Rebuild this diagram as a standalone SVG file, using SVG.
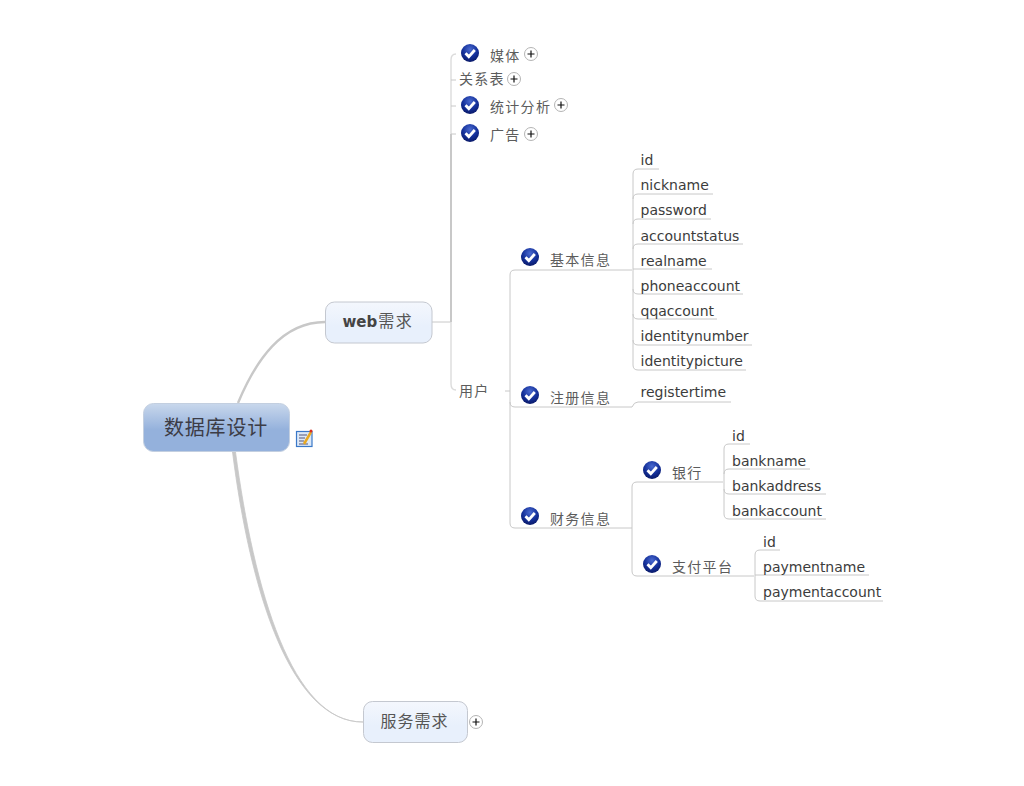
<svg xmlns="http://www.w3.org/2000/svg" width="1024" height="786" viewBox="0 0 1024 786">
<style>
.t{font-family:"DejaVu Sans","Liberation Sans",sans-serif;font-size:14px;fill:#3c3c3c}
.c{font-family:"Noto Sans CJK SC","DejaVu Sans",sans-serif;font-size:14px;fill:#5c5c5c;letter-spacing:1.300px}
.l{fill:none;stroke:#c8c8c8;stroke-width:1}
.p{fill:none;stroke:#111;stroke-width:1.200}
.pc{fill:#fff;stroke:#b4b4b4;stroke-width:1}
</style>
<defs>
<radialGradient id="g" cx="0.5" cy="0.3" r="0.75"><stop offset="0" stop-color="#4a6ad0"/><stop offset="0.55" stop-color="#14309a"/><stop offset="1" stop-color="#081660"/></radialGradient>
<linearGradient id="r" x1="0" y1="0" x2="0" y2="1"><stop offset="0" stop-color="#c9d8ec"/><stop offset="0.55" stop-color="#94b1dc"/><stop offset="1" stop-color="#94b1dc"/></linearGradient>
<linearGradient id="s" x1="0" y1="0" x2="0" y2="1"><stop offset="0" stop-color="#f4f7fd"/><stop offset="0.6" stop-color="#e8f0fc"/><stop offset="1" stop-color="#e8f0fc"/></linearGradient>
<g id="ck"><circle r="9" fill="url(#g)"/><path d="M-4.500 0.200L-1.200 3.600L4.800 -3" fill="none" stroke="#fff" stroke-width="2.800"/></g>
<g id="pl"><circle r="6.500" class="pc"/><path d="M-3.500 0H3.500M0 -3.500V3.500" class="p"/></g>
</defs>
<g id="connectors">
<path d="M238 403C256 360 282 322 325 322" fill="none" stroke="#c8c8c8" stroke-width="2.400"/>
<path d="M232.500 452C250 590 290 722 363 722C292 723 254 590 235.500 452Z" fill="#c8c8c8" stroke="#c8c8c8" stroke-width="0.800"/>
<path class="l" d="M432 322H451"/>
<path d="M451 134V322" fill="none" stroke="#c8c8c8" stroke-width="2"/>
<path d="M456 54Q451 54 451 60V134M451 322V384Q451 390 456 390" fill="none" stroke="#dcdcdc" stroke-width="1.400"/>
<path class="l" d="M451 80H456M451 106H456M451 134H456M505 391H510"/>
<path class="l" d="M632 270H515Q510 270 510 275V523Q510 528 515 528H632M510 402Q510 407 515 407H632Q634 402 638 402H731"/>
<path class="l" d="M659 169H638Q633 169 633 174V365Q633 370 638 370H746M713 194H638Q633 194 633 199M711 219H638Q633 219 633 224M743 244H638Q633 244 633 249M712 269H633M743 294H638Q633 294 633 289M717 319H638Q633 319 633 314M752 345H638Q633 345 633 340"/>
<path class="l" d="M723 482H637Q632 482 632 487V571Q632 576 637 576H754"/>
<path class="l" d="M750 444H729Q724 444 724 449V514Q724 519 729 519H826M810 469H729Q724 469 724 474M826 494H729Q724 494 724 489"/>
<path class="l" d="M780 550H760Q755 550 755 555V596Q755 601 760 601H883M869 575H755"/>
</g>
<g id="root"><rect x="143.500" y="403.500" width="146" height="48" rx="10" fill="url(#r)" stroke="#c3cfe0"/><text x="216" y="435" text-anchor="middle" font-family="'Noto Sans CJK SC',sans-serif" font-size="20" letter-spacing="0.800" fill="#3c3c46">数据库设计</text>
<g id="note"><rect x="296.500" y="431.500" width="15.500" height="15" fill="#dce8f8" stroke="#3a78c8" stroke-width="1.200"/><path d="M299 435H307M299 438H305M299 441H304M299 444H308" stroke="#557" stroke-width="1"/><path d="M304 444L311 432" stroke="#e8a820" stroke-width="2.500"/><circle cx="311" cy="431" r="1.500" fill="#d83020"/></g></g>
<g id="web"><rect x="325.500" y="302" width="106.500" height="41" rx="9" fill="url(#s)" stroke="#c4c8d0"/><text x="342.500" y="327" font-family="'DejaVu Sans',sans-serif" font-size="15" font-weight="bold" fill="#444">web<tspan font-family="'Noto Sans CJK SC',sans-serif" font-weight="normal" font-size="16" fill="#555" letter-spacing="1.500" dx="1">需求</tspan></text></g>
<g id="service"><rect x="363.500" y="701.500" width="104" height="41" rx="9" fill="url(#s)" stroke="#c4c8d0"/><text x="380.500" y="727" font-family="'Noto Sans CJK SC',sans-serif" font-size="16" letter-spacing="1" fill="#555">服务需求</text><use href="#pl" x="476" y="722"/></g>
<g id="media"><use href="#ck" x="470" y="53"/><text class="c" x="490" y="61">媒体</text><use href="#pl" x="531" y="54"/></g>
<g id="relation"><text class="c" x="459" y="84">关系表</text><use href="#pl" x="514" y="79"/></g>
<g id="stats"><use href="#ck" x="470" y="105"/><text class="c" x="490" y="112">统计分析</text><use href="#pl" x="561" y="105"/></g>
<g id="ads"><use href="#ck" x="470" y="133"/><text class="c" x="490" y="140">广告</text><use href="#pl" x="531" y="134"/></g>
<g id="user"><text class="c" x="459" y="396">用户</text></g>
<g id="basic"><use href="#ck" x="530" y="257"/><text class="c" x="550" y="265">基本信息</text></g>
<g id="register"><use href="#ck" x="530" y="395"/><text class="c" x="550" y="403">注册信息</text></g>
<g id="finance"><use href="#ck" x="530" y="516"/><text class="c" x="550" y="524">财务信息</text></g>
<g id="bank"><use href="#ck" x="652" y="470"/><text class="c" x="672" y="478">银行</text></g>
<g id="pay"><use href="#ck" x="652" y="564"/><text class="c" x="672" y="572">支付平台</text></g>
<g id="fields">
<text class="t" x="640.500" y="165">id</text>
<text class="t" x="640.500" y="190">nickname</text>
<text class="t" x="640.500" y="215">password</text>
<text class="t" x="640.500" y="241">accountstatus</text>
<text class="t" x="640.500" y="266">realname</text>
<text class="t" x="640.500" y="291">phoneaccount</text>
<text class="t" x="640.500" y="316">qqaccount</text>
<text class="t" x="640.500" y="341">identitynumber</text>
<text class="t" x="640.500" y="366">identitypicture</text>
<text class="t" x="640.500" y="397">registertime</text>
<text class="t" x="732" y="441">id</text>
<text class="t" x="732" y="466">bankname</text>
<text class="t" x="732" y="491">bankaddress</text>
<text class="t" x="732" y="516">bankaccount</text>
<text class="t" x="763" y="547">id</text>
<text class="t" x="763" y="572">paymentname</text>
<text class="t" x="763" y="597">paymentaccount</text>
</g>
</svg>
